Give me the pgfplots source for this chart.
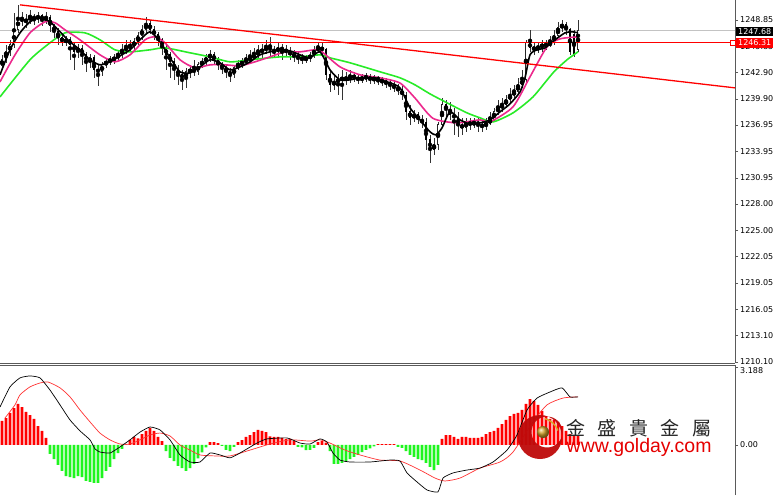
\documentclass[border=0pt]{standalone}
\usepackage{fontspec}
\setmainfont{DejaVu Sans}
\newfontfamily\cjk{Noto Sans CJK TC}
\newfontfamily\lib{Liberation Sans}
\usepackage{pgfplots}
\usepackage{pgfplotstable}
\pgfplotsset{compat=1.18}

\definecolor{mapink}{RGB}{236,40,140}
\definecolor{magreen}{RGB}{40,235,40}
\definecolor{axgray}{RGB}{90,90,90}
\definecolor{histgreen}{RGB}{30,245,30}
\definecolor{pricegray}{RGB}{195,195,195}
\definecolor{logored}{RGB}{190,10,10}
\definecolor{logogold}{RGB}{215,165,40}

% candles: x (pixel column), open, high, low, close
\pgfplotstableread{
x o h l c
2 1243.65 1244.89 1243.19 1244.33
6 1244.33 1246.02 1243.99 1245.23
10 1245.23 1246.59 1244.78 1246.02
14 1246.02 1249.65 1245.68 1247.72
18 1247.72 1250.55 1247.38 1249.08
22 1249.08 1249.76 1248.18 1248.63
26 1248.63 1249.53 1247.95 1248.86
30 1248.86 1249.99 1248.40 1249.19
34 1249.19 1249.53 1248.29 1248.97
38 1248.97 1249.76 1248.52 1249.31
42 1249.31 1249.53 1248.18 1248.86
46 1248.86 1249.76 1248.40 1249.08
50 1249.08 1249.42 1247.50 1248.18
54 1248.18 1248.40 1246.82 1247.50
58 1247.50 1247.95 1246.02 1246.82
62 1246.82 1247.27 1245.91 1246.36
66 1246.36 1247.04 1245.91 1246.59
70 1246.59 1246.93 1244.33 1246.02
74 1246.02 1246.36 1243.19 1245.23
78 1245.23 1246.14 1244.55 1245.68
82 1245.68 1246.02 1243.76 1244.89
86 1244.89 1245.23 1242.97 1244.10
90 1244.10 1245.00 1243.42 1244.55
94 1244.55 1244.89 1242.29 1243.19
98 1243.19 1243.87 1241.38 1242.97
102 1242.97 1244.10 1242.51 1243.76
106 1243.76 1244.55 1243.42 1244.10
110 1244.10 1244.78 1243.76 1244.33
114 1244.33 1245.00 1243.87 1244.55
118 1244.55 1245.46 1244.33 1244.89
122 1244.89 1246.14 1244.55 1245.46
126 1245.46 1246.59 1245.00 1245.68
130 1245.68 1246.59 1245.23 1245.91
134 1245.91 1246.82 1245.46 1246.36
138 1246.36 1247.50 1246.02 1247.04
142 1247.04 1248.29 1246.59 1247.72
146 1247.72 1249.19 1247.38 1248.40
150 1248.40 1248.86 1247.27 1247.72
154 1247.72 1248.18 1246.59 1247.16
158 1247.16 1247.50 1245.91 1246.59
162 1246.59 1246.82 1244.89 1245.68
166 1245.68 1246.02 1243.19 1244.89
170 1244.89 1245.23 1242.29 1244.10
174 1244.10 1244.55 1242.06 1243.19
178 1243.19 1243.76 1241.49 1242.63
182 1242.63 1243.19 1240.93 1242.29
186 1242.29 1243.42 1241.15 1242.97
190 1242.97 1243.76 1242.29 1243.19
194 1243.19 1244.33 1242.51 1242.97
198 1242.97 1244.10 1242.63 1243.76
202 1243.76 1244.55 1243.42 1244.10
206 1244.10 1245.00 1243.76 1244.55
210 1244.55 1245.46 1244.10 1244.89
214 1244.89 1245.23 1243.87 1244.33
218 1244.33 1244.66 1243.19 1243.76
222 1243.76 1244.10 1242.74 1243.42
226 1243.42 1243.87 1242.29 1242.97
230 1242.97 1243.42 1241.83 1242.63
234 1242.63 1243.65 1242.29 1243.42
238 1243.42 1244.33 1243.19 1243.76
242 1243.76 1244.55 1243.42 1244.10
246 1244.10 1245.00 1243.76 1244.33
250 1244.33 1245.46 1243.99 1244.55
254 1244.55 1245.68 1244.33 1244.89
258 1244.89 1246.02 1244.55 1245.23
262 1245.23 1246.14 1244.55 1245.46
266 1245.46 1246.59 1245.00 1245.68
270 1245.68 1246.93 1244.78 1245.46
274 1245.46 1245.91 1244.55 1245.23
278 1245.23 1246.25 1244.78 1245.68
282 1245.68 1246.14 1244.33 1245.46
286 1245.46 1246.02 1244.66 1245.23
290 1245.23 1245.80 1244.33 1245.00
294 1245.00 1245.46 1244.10 1244.78
298 1244.78 1245.23 1243.87 1244.55
302 1244.55 1245.00 1243.87 1244.33
306 1244.33 1244.89 1243.99 1244.55
310 1244.55 1245.23 1244.10 1244.78
314 1244.78 1245.91 1244.55 1245.46
318 1245.46 1246.36 1245.12 1245.68
322 1245.68 1246.36 1244.78 1245.46
326 1245.46 1245.68 1242.06 1242.63
330 1242.63 1243.19 1240.70 1241.49
334 1241.49 1242.51 1240.93 1241.83
338 1241.83 1242.74 1240.36 1242.06
342 1242.06 1243.19 1239.80 1242.29
346 1242.29 1242.97 1241.49 1242.06
350 1242.06 1243.19 1241.72 1242.51
354 1242.51 1242.97 1241.83 1242.29
358 1242.29 1242.74 1241.61 1242.06
362 1242.06 1242.74 1241.72 1242.29
366 1242.29 1242.85 1241.83 1242.40
370 1242.40 1242.74 1241.61 1242.06
374 1242.06 1242.63 1241.61 1242.29
378 1242.29 1242.51 1241.49 1242.06
382 1242.06 1242.40 1241.38 1241.83
386 1241.83 1242.29 1241.15 1241.72
390 1241.72 1242.06 1240.93 1241.49
394 1241.49 1241.83 1240.70 1241.15
398 1241.15 1241.61 1240.36 1240.93
402 1240.93 1241.38 1239.80 1240.36
406 1240.36 1240.70 1237.53 1238.44
410 1238.44 1239.23 1236.96 1237.76
414 1237.76 1238.66 1237.30 1238.10
418 1238.10 1238.44 1237.08 1237.53
422 1237.53 1238.10 1236.62 1237.30
426 1237.30 1237.76 1234.13 1235.27
430 1235.27 1235.83 1232.66 1234.13
434 1234.13 1235.49 1233.57 1234.70
438 1234.70 1237.30 1234.13 1236.96
442 1236.96 1240.02 1236.62 1239.23
446 1239.23 1239.80 1237.76 1238.66
450 1238.66 1239.57 1237.53 1238.10
454 1238.10 1238.89 1235.83 1237.76
458 1237.76 1238.44 1235.60 1236.96
462 1236.96 1237.76 1235.83 1236.62
466 1236.62 1237.76 1236.17 1237.30
470 1237.30 1237.76 1236.40 1236.96
474 1236.96 1237.76 1236.62 1237.30
478 1237.30 1237.76 1236.17 1236.96
482 1236.96 1237.53 1236.17 1236.74
486 1236.74 1237.76 1236.40 1237.19
490 1237.19 1238.44 1236.96 1237.53
494 1237.53 1238.89 1237.30 1238.44
498 1238.44 1239.80 1238.10 1238.89
502 1238.89 1240.02 1238.44 1239.23
506 1239.23 1240.36 1238.89 1239.80
510 1239.80 1241.15 1239.34 1240.36
514 1240.36 1241.49 1240.02 1240.70
518 1240.70 1242.29 1240.36 1241.49
522 1241.49 1243.19 1241.15 1242.06
526 1242.06 1246.59 1241.83 1246.25
530 1246.25 1247.72 1245.23 1245.68
534 1245.68 1246.36 1244.89 1245.46
538 1245.46 1246.36 1245.12 1245.80
542 1245.80 1246.59 1245.23 1246.02
546 1246.02 1246.59 1245.46 1245.91
550 1245.91 1247.04 1245.80 1246.36
554 1246.36 1247.72 1246.02 1247.04
558 1247.04 1248.63 1246.82 1247.95
562 1247.95 1248.86 1247.50 1248.29
566 1248.29 1248.63 1247.16 1247.72
570 1247.72 1247.95 1244.89 1245.23
574 1247.16 1247.72 1244.66 1244.89
578 1245.46 1248.86 1245.23 1247.68
}\candles

% MACD histogram
\pgfplotstableread{
x v
2 0.99
6 1.11
10 1.32
14 1.52
18 1.69
22 1.56
26 1.36
30 1.23
34 1.07
38 0.78
42 0.58
46 0.29
50 -0.37
54 -0.58
58 -0.82
62 -1.07
66 -1.28
70 -1.32
74 -1.36
78 -1.28
82 -1.32
86 -1.48
90 -1.52
94 -1.56
98 -1.56
102 -1.36
106 -1.07
110 -0.90
114 -0.58
118 -0.33
122 -0.16
126 0.02
130 0.21
134 0.33
138 0.27
142 0.45
146 0.58
150 0.70
154 0.58
158 0.33
162 0.16
166 -0.25
170 -0.53
174 -0.66
178 -0.86
182 -0.95
186 -1.07
190 -0.95
194 -0.78
198 -0.55
202 -0.30
206 -0.10
210 0.12
214 0.12
218 0.08
222 -0.04
226 -0.20
230 -0.25
234 -0.08
238 0.12
242 0.20
246 0.33
250 0.41
254 0.53
258 0.62
262 0.58
266 0.53
270 0.35
274 0.33
278 0.33
282 0.29
286 0.25
290 0.25
294 0.16
298 -0.08
302 -0.10
306 -0.21
310 -0.20
314 -0.12
318 0.12
322 0.16
326 0.10
330 -0.25
334 -0.78
338 -0.78
342 -0.74
346 -0.66
350 -0.58
354 -0.49
358 -0.41
362 -0.29
366 -0.20
370 -0.14
374 -0.06
378 0.04
382 0.04
386 0.04
390 0.04
394 0.04
398 -0.08
402 -0.12
406 -0.25
410 -0.41
414 -0.49
418 -0.58
422 -0.62
426 -0.74
430 -0.90
434 -1.03
438 -0.82
442 0.25
446 0.41
450 0.41
454 0.33
458 0.25
462 0.33
466 0.33
470 0.29
474 0.29
478 0.29
482 0.33
486 0.45
490 0.53
494 0.58
498 0.70
502 0.86
506 1.03
510 1.19
514 1.28
518 1.32
522 1.44
526 1.69
530 1.89
534 1.81
538 1.65
542 1.40
546 1.19
550 1.07
554 1.03
558 0.95
562 0.78
566 0.58
570 0.45
574 0.40
578 0.36
}\hist

\pgfplotsset{
  mtaxis/.style={
    scale only axis, width=735pt,
    xmin=0, xmax=735, xtick=\empty,
    axis y line*=right, axis x line*=bottom,
    axis line style={axgray, line width=0.8pt},
    tick align=outside, major tick length=3pt,
    tick style={axgray, line width=0.6pt},
    yticklabel style={font=\fontsize{8}{9}\selectfont, text=black, inner sep=0pt, xshift=2pt},
    clip=false,
  },
  candle/.style={only marks, mark=none, forget plot},
}

\begin{document}
\begin{tikzpicture}

% price window
\begin{axis}[mtaxis, name=main, at={(0pt,0pt)}, anchor=north west,
  height=363pt, ymin=1210.0, ymax=1251.1,
  ytick={1210.10,1213.10,1216.05,1219.05,1222.05,1225.00,1228.00,1230.95,1233.95,1236.95,1239.90,1242.90,1245.85,1248.85},
  yticklabels={\raisebox{1pt}[5.8pt][0pt]{1210.10},1213.10,1216.05,1219.05,1222.05,1225.00,1228.00,1230.95,1233.95,1236.95,1239.90,1242.90,1245.85,1248.85},
]
% bid line
\addplot[pricegray, line width=0.7pt, forget plot] coordinates {(0,1247.68) (735,1247.68)};

% wicks
\addplot[candle, error bars/.cd, y dir=both, y explicit, error mark=none,
  error bar style={black!80, line width=0.8pt}]
  table[x=x, y expr={0.5*(\thisrow{h}+\thisrow{l})}, y error expr={0.5*(\thisrow{h}-\thisrow{l})}] {\candles};
% bear bodies
\addplot[candle, error bars/.cd, y dir=both, y explicit, error mark=none,
  error bar style={black, line width=2.6pt}]
  table[x=x, y expr={\thisrow{c}<\thisrow{o} ? 0.5*(\thisrow{o}+\thisrow{c}) : nan},
    y error expr={0.5*abs(\thisrow{o}-\thisrow{c})+0.04}] {\candles};
% bull bodies: outline then white inside
\addplot[candle, error bars/.cd, y dir=both, y explicit, error mark=none,
  error bar style={black!85, line width=2.8pt}]
  table[x=x, y expr={\thisrow{c}>=\thisrow{o} ? 0.5*(\thisrow{o}+\thisrow{c}) : nan},
    y error expr={0.5*abs(\thisrow{o}-\thisrow{c})+0.06}] {\candles};
\addplot[candle, error bars/.cd, y dir=both, y explicit, error mark=none,
  error bar style={white, line width=1.0pt}]
  table[x=x, y expr={\thisrow{c}>=\thisrow{o} ? 0.5*(\thisrow{o}+\thisrow{c}) : nan},
    y error expr={max(0.5*abs(\thisrow{o}-\thisrow{c})-0.06,0)}] {\candles};

% moving averages
\addplot[magreen, line width=1.6pt, smooth, tension=0.4] coordinates {
(0,1240.13)(30,1244.33)(50,1246.25)(65,1247.38)(85,1247.38)(100,1246.59)(115,1245.46)(130,1245.23)
(150,1245.46)(165,1245.68)(190,1245.12)(210,1244.66)(230,1244.10)(250,1244.33)(280,1244.66)(300,1244.66)
(320,1244.89)(330,1244.55)(350,1243.99)(380,1242.97)(400,1242.29)(415,1241.49)(430,1240.47)(447,1239.46)
(467,1238.32)(480,1237.76)(493,1237.30)(513,1238.32)(533,1240.13)(553,1242.85)(567,1244.33)(578,1245.23)};
\addplot[mapink, line width=1.6pt, smooth, tension=0.4] coordinates {
(0,1241.83)(15,1244.89)(30,1247.38)(45,1248.63)(55,1248.52)(65,1247.72)(80,1246.59)(100,1244.89)
(115,1244.10)(130,1244.89)(145,1246.59)(155,1246.93)(165,1246.25)(180,1244.33)(195,1243.42)(210,1243.76)
(225,1243.76)(240,1243.65)(255,1244.10)(270,1244.66)(285,1245.23)(300,1245.23)(315,1245.46)(322,1245.23)
(340,1243.53)(360,1242.63)(380,1242.29)(400,1241.70)(415,1240.00)(433,1237.70)(457,1237.19)(480,1237.53)
(490,1237.30)(513,1239.00)(530,1242.40)(547,1245.80)(560,1246.70)(578,1246.93)};
\addplot[black, line width=1.6pt, smooth, tension=0.4] coordinates {
(0,1242.63)(10,1245.46)(20,1247.38)(30,1248.63)(40,1249.08)(50,1248.63)(60,1247.50)(70,1246.36)
(80,1245.46)(90,1244.33)(100,1243.76)(110,1244.10)(120,1244.78)(130,1245.46)(140,1246.59)(150,1247.50)
(160,1246.36)(170,1244.55)(180,1242.97)(190,1242.85)(200,1243.53)(210,1244.33)(220,1243.99)(230,1243.19)
(240,1243.53)(250,1244.10)(260,1244.89)(270,1245.23)(280,1245.46)(290,1245.34)(300,1244.89)(310,1244.55)
(320,1245.23)(330,1243.19)(340,1242.06)(350,1242.06)(360,1242.29)(370,1242.29)(380,1242.06)(390,1241.72)
(400,1241.15)(410,1238.89)(420,1237.53)(430,1236.17)(436,1235.83)(442,1236.62)(450,1238.44)(460,1237.53)
(470,1237.08)(480,1237.19)(490,1237.53)(500,1238.44)(510,1239.34)(520,1240.70)(525,1242.29)(530,1244.89)
(537,1245.46)(545,1245.68)(555,1246.59)(565,1247.38)(572,1247.50)(578,1247.38)};

% trend line and level
\addplot[red, line width=1.3pt] coordinates {(20,1250.55) (735,1241.15)};
\addplot[red, line width=1.4pt] coordinates {(0,1246.31) (735,1246.31)};
\end{axis}

% MACD window
\begin{axis}[mtaxis, name=macd, at={(0pt,-365pt)}, anchor=north west,
  height=130pt, ymin=-2.06, ymax=3.29,
  axis x line*=top,
  ytick={0,3.188}, yticklabels={0.00,\raisebox{-3pt}[5.8pt][0pt]{3.188}},
]
\addplot[ybar, bar width=2.8pt, bar shift=0pt, fill=red, draw=none]
  table[x=x, y expr={\thisrow{v}>0 ? \thisrow{v} : nan}] {\hist};
\addplot[ybar, bar width=2.8pt, bar shift=0pt, fill=histgreen, draw=none]
  table[x=x, y expr={\thisrow{v}<0 ? \thisrow{v} : nan}] {\hist};
\addplot[red!80, line width=0.7pt, smooth, tension=0.4] coordinates {
(5,1.11)(15,1.65)(20,2.06)(30,2.39)(40,2.55)(48,2.59)(60,2.35)(70,1.98)(80,1.44)(90,0.95)(100,0.49)
(110,0.21)(120,0.04)(130,0.04)(140,0.21)(150,0.41)(160,0.49)(170,0.37)(180,0)(190,-0.21)(200,-0.41)
(215,-0.45)(230,-0.45)(250,-0.21)(270,0.04)(290,0.21)(310,0.16)(320,0.21)(330,0.08)(345,-0.21)
(360,-0.41)(380,-0.62)(400,-0.66)(420,-1.03)(435,-1.36)(445,-1.48)(460,-1.36)(480,-0.95)(500,-0.70)
(513,-0.29)(533,0.95)(547,1.65)(563,1.93)(578,1.98)};
\addplot[black, line width=0.7pt, smooth, tension=0.3] coordinates {
(0,1.56)(10,2.39)(20,2.76)(30,2.84)(40,2.76)(50,2.26)(60,1.65)(70,1.03)(80,0.58)(90,0.21)(95,-0.16)
(100,-0.29)(110,-0.33)(120,-0.08)(130,0.21)(140,0.53)(150,0.74)(160,0.62)(170,0.21)(180,-0.41)
(190,-0.70)(200,-0.70)(210,-0.33)(220,-0.41)(230,-0.53)(240,-0.33)(257,0.08)(267,0.25)(287,0.29)
(300,0.08)(310,0.04)(320,0.25)(327,0.12)(333,-0.33)(340,-0.62)(350,-0.70)(370,-0.70)(390,-0.62)
(400,-0.66)(407,-1.15)(417,-1.52)(427,-1.85)(438,-1.93)(443,-1.36)(453,-1.15)(467,-1.03)(480,-0.95)
(493,-0.70)(507,-0.21)(517,0.41)(527,1.44)(537,1.93)(550,2.18)(562,2.35)(570,1.98)(578,1.98)};
\end{axis}

% price tags on the scale
\node[fill=black, text=white, anchor=west, inner sep=0pt, minimum height=9pt, minimum width=37pt,
  font=\fontsize{8}{9}\selectfont] at (736pt,-31.5pt) {1247.68};
\node[fill=red, text=white, anchor=west, inner sep=0pt, minimum height=10pt, minimum width=37pt,
  font=\fontsize{8}{9}\selectfont] at (736pt,-43pt) {1246.31};
\draw[red, fill=white, line width=0.8pt] (730.5pt,-45.5pt) rectangle (735pt,-40.5pt);

% watermark
\fill[logored, even odd rule, opacity=0.95] (540pt,-437pt) circle (22pt) (547pt,-432pt) circle (15.5pt);
\draw[logogold, line width=1.4pt] (540pt,-437pt) ++(75:19pt) arc (75:20:19pt);
\shade[ball color=logogold] (543pt,-432pt) circle (6pt);
\node[anchor=base west, inner sep=0pt, text depth=0pt, text=black!85, font=\cjk\fontsize{19}{19}\selectfont]
  at (566pt,-435.5pt) {金\hspace{12.5pt}盛\hspace{12.5pt}貴\hspace{12.5pt}金\hspace{12.5pt}屬};
\node[anchor=base west, inner sep=0pt, text height=13pt, text=red!90!black, font=\lib\fontsize{19.5}{20}\selectfont]
  at (566.5pt,-452pt) {www.golday.com};

\pgfresetboundingbox
\path[use as bounding box] (0pt,0pt) rectangle (773pt,-495pt);
\end{tikzpicture}
\end{document}
